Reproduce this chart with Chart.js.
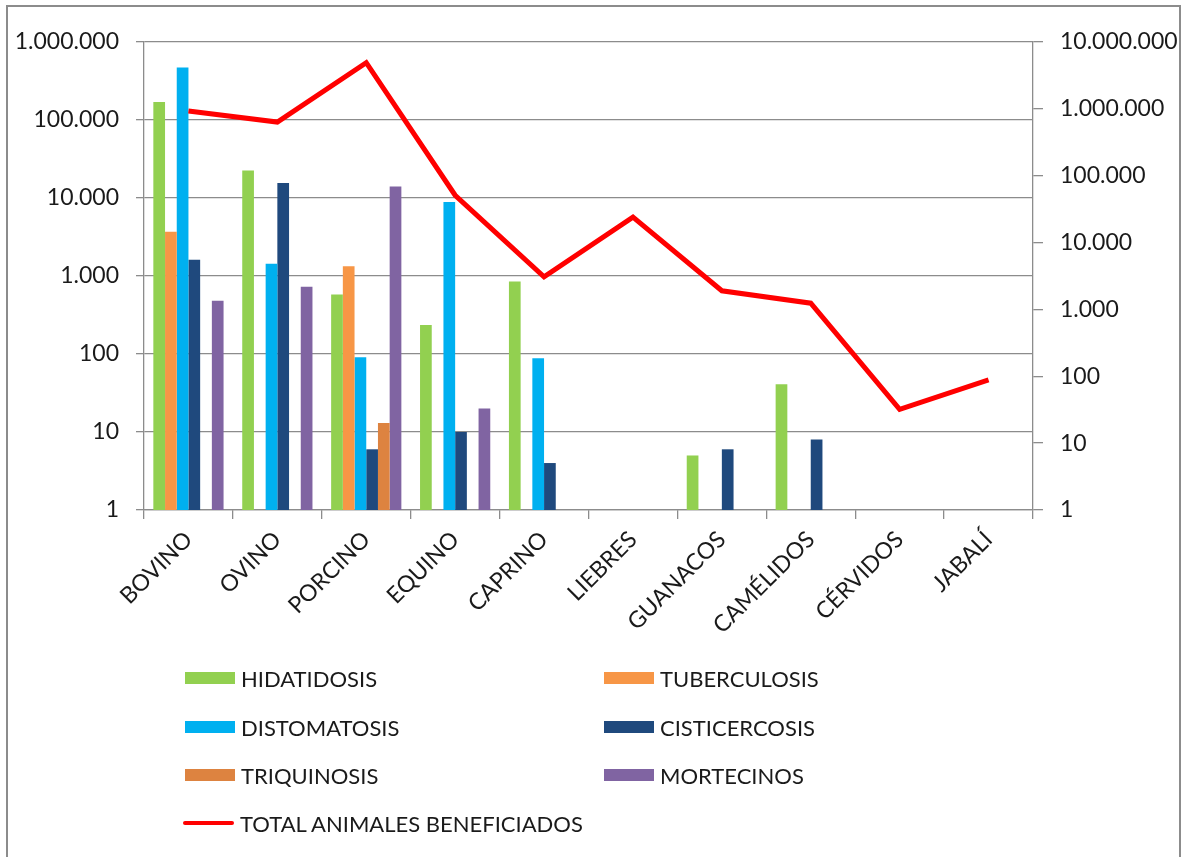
<!DOCTYPE html>
<html>
<head>
<meta charset="utf-8">
<script src="https://cdn.jsdelivr.net/npm/chart.js@4/dist/chart.umd.min.js"></script>
<style>
  html, body { margin: 0; padding: 0; background: #fff; overflow: hidden; }
  #wrap { position: relative; width: 1189px; height: 857px; }
  #frame { position: absolute; left: 6px; top: 5px; width: 1175px; height: 880px; border: 2px solid #8c8c8c; box-sizing: border-box; }
  #myChart { position: absolute; left: 0; top: 0; }
  .leg { position: absolute; font-family: Lato, "Liberation Sans", sans-serif; font-size: 22px; color: #1a1a1a; display: flex; align-items: center; }
  .leg span.box { display: inline-block; width: 50px; height: 12px; margin-right: 6px; }
  .leg span.ln { display: inline-block; width: 51px; height: 4px; border-radius: 2px; margin-right: 6px; }
</style>
</head>
<body>
<div id="wrap">
  <canvas id="myChart" width="1189" height="857"></canvas>
  <div id="frame"></div>
  <div id="legend"></div>
</div>
<script>
const categories = ["BOVINO", "OVINO", "PORCINO", "EQUINO", "CAPRINO", "LIEBRES", "GUANACOS", "CAMÉLIDOS", "CÉRVIDOS", "JABALÍ"];

const hidatidosis   = [170000, 22600, 580, 235, 850, null, 5, 41, null, null];
const tuberculosis  = [3700, null, 1330, null, null, null, null, null, null, null];
const distomatosis  = [470000, 1440, 91, 8900, 88, null, null, null, null, null];
const cisticercosis = [1620, 15600, 6, 10, 4, null, 6, 8, null, null];
const triquinosis   = [null, null, 13, null, null, null, null, null, null, null];
const mortecinos    = [480, 730, 14000, 20, null, null, null, null, null, null];
const totalAnimales = [930000, 635000, 4900000, 51000, 3080, 24000, 1900, 1240, 32, 88];

const leftTicks  = [1, 10, 100, 1000, 10000, 100000, 1000000];
const rightTicks = [1, 10, 100, 1000, 10000, 100000, 1000000, 10000000];

const barSeries = [
  { label: "HIDATIDOSIS", data: hidatidosis, color: "#92D050" },
  { label: "TUBERCULOSIS", data: tuberculosis, color: "#F79646" },
  { label: "DISTOMATOSIS", data: distomatosis, color: "#00B0F0" },
  { label: "CISTICERCOSIS", data: cisticercosis, color: "#1F497D" },
  { label: "TRIQUINOSIS", data: triquinosis, color: "#DD8340" },
  { label: "MORTECINOS", data: mortecinos, color: "#8064A2" },
];
const lineLabel = "TOTAL ANIMALES BENEFICIADOS";

const fmt = (v) => String(v).replace(/\B(?=(\d{3})+(?!\d))/g, ".");
const gridGray = "#8c8c8c";
const tickFont = { family: "Lato, 'Liberation Sans', sans-serif", size: 23 };

const datasets = barSeries.map((s) => ({
  type: "bar",
  label: s.label,
  data: s.data,
  backgroundColor: s.color,
  yAxisID: "y",
  categoryPercentage: 0.79,
  barPercentage: 1,
  order: 2,
}));
datasets.push({
  type: "line",
  label: lineLabel,
  data: totalAnimales,
  borderColor: "#FF0000",
  backgroundColor: "#FF0000",
  borderWidth: 5,
  pointRadius: 0,
  tension: 0,
  yAxisID: "y1",
  order: 1,
});

const config = {
  type: "bar",
  data: { labels: categories, datasets: datasets },
  options: {
    responsive: false,
    animation: false,
    layout: { padding: { left: 8, right: 8, top: 42, bottom: 0 } },
    plugins: { legend: { display: false }, tooltip: { enabled: false } },
    scales: {
      x: {
        offset: true,
        grid: { offset: true, drawOnChartArea: false, color: gridGray, tickLength: 9, lineWidth: 1.3 },
        border: { color: gridGray, width: 1.3 },
        ticks: { color: "#1a1a1a", font: { family: tickFont.family, size: 23 }, minRotation: 45, maxRotation: 45, padding: 7, autoSkip: false },
        afterFit: (scale) => { scale.height = 347; },
      },
      y: {
        type: "logarithmic",
        position: "left",
        min: 1,
        max: 1000000,
        grid: { color: gridGray, tickLength: 8, lineWidth: 1.3 },
        border: { color: gridGray, width: 1.3 },
        ticks: { color: "#1a1a1a", font: tickFont, padding: 17, callback: (v) => fmt(v) },
        afterBuildTicks: (scale) => { scale.ticks = leftTicks.map((v) => ({ value: v })); },
        afterFit: (scale) => { scale.width = 136; },
      },
      y1: {
        type: "logarithmic",
        position: "right",
        min: 1,
        max: 10000000,
        grid: { drawOnChartArea: false, color: gridGray, tickLength: 10, lineWidth: 1.3 },
        border: { color: gridGray, width: 1.3 },
        ticks: { color: "#1a1a1a", font: tickFont, padding: 17, callback: (v) => fmt(v) },
        afterBuildTicks: (scale) => { scale.ticks = rightTicks.map((v) => ({ value: v })); },
        afterFit: (scale) => { scale.width = 148; },
      },
    },
  },
};

const myChart = new Chart(document.getElementById("myChart"), config);

// legend in two columns, like the original
const legendDiv = document.getElementById("legend");
const rowsY = [678, 727, 775, 823];
barSeries.forEach((s, i) => {
  const item = document.createElement("div");
  item.className = "leg";
  item.style.left = (i % 2 === 0 ? 185 : 604) + "px";
  item.style.top = (rowsY[Math.floor(i / 2)] - 14) + "px";
  item.style.height = "28px";
  item.innerHTML = `<span class="box" style="background:${s.color}"></span>${s.label}`;
  legendDiv.appendChild(item);
});
const lineItem = document.createElement("div");
lineItem.className = "leg";
lineItem.style.left = "183px";
lineItem.style.top = (rowsY[3] - 14) + "px";
lineItem.style.height = "28px";
lineItem.innerHTML = `<span class="ln" style="background:#FF0000"></span>${lineLabel}`;
legendDiv.appendChild(lineItem);
</script>
</body>
</html>
